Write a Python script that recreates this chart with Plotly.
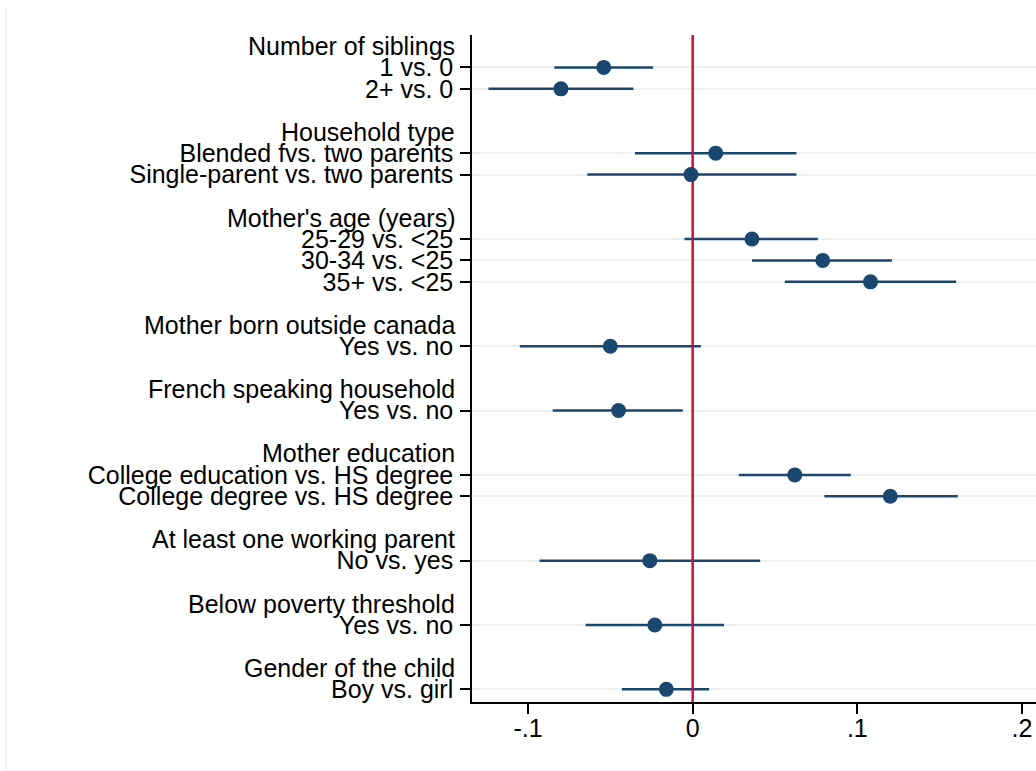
import plotly.graph_objects as go

# ---- data ----
group_headers = [
    "Number of siblings",
    "Household type",
    "Mother's age (years)",
    "Mother born outside canada",
    "French speaking household",
    "Mother education",
    "At least one working parent",
    "Below poverty threshold",
    "Gender of the child",
]
group_items = [
    ["1 vs. 0", "2+ vs. 0"],
    ["Blended fvs. two parents", "Single-parent vs. two parents"],
    ["25-29 vs. <25", "30-34 vs. <25", "35+ vs. <25"],
    ["Yes vs. no"],
    ["Yes vs. no"],
    ["College education vs. HS degree", "College degree vs. HS degree"],
    ["No vs. yes"],
    ["Yes vs. no"],
    ["Boy vs. girl"],
]
coef = [-0.054, -0.080, 0.014, -0.001, 0.036, 0.079, 0.108, -0.050, -0.045,
        0.062, 0.120, -0.026, -0.023, -0.016]
ci_low = [-0.084, -0.124, -0.035, -0.064, -0.005, 0.036, 0.056, -0.105, -0.085,
          0.028, 0.080, -0.093, -0.065, -0.043]
ci_high = [-0.024, -0.036, 0.063, 0.063, 0.076, 0.121, 0.160, 0.005, -0.006,
           0.096, 0.161, 0.041, 0.019, 0.010]
x_ticks = [-0.1, 0, 0.1, 0.2]
x_ticktext = ["-.1", "0", ".1", ".2"]
x_range = [-0.134, 0.2085]

# ---- row layout ----
header_rows = []
item_rows = []
item_labels = []
r = 0
for h, items in zip(group_headers, group_items):
    header_rows.append(r)
    for k, lab in enumerate(items):
        item_rows.append(r + 1 + k)
        item_labels.append(lab)
    r += len(items) + 2
y_range = [item_rows[-1] + 0.59, -0.51]

NAVY = "#1a476f"
RED = "#c8103c"
GRID = "#eaf2f3"
FONT = "Liberation Sans, Arial, sans-serif"
FS = 25

fig = go.Figure()

# CI lines
ci_x, ci_y = [], []
for lo, hi, y in zip(ci_low, ci_high, item_rows):
    ci_x += [lo, hi, None]
    ci_y += [y, y, None]
fig.add_trace(go.Scatter(x=ci_x, y=ci_y, mode="lines",
                         line=dict(color=NAVY, width=2.5), hoverinfo="skip",
                         showlegend=False))
# zero reference line
fig.add_trace(go.Scatter(x=[0, 0], y=y_range, mode="lines",
                         line=dict(color=RED, width=2.5), hoverinfo="skip",
                         showlegend=False))
# point estimates
fig.add_trace(go.Scatter(x=coef, y=item_rows, mode="markers",
                         marker=dict(color=NAVY, size=15, line=dict(width=0)),
                         showlegend=False))

annotations = []
for h, y in zip(group_headers, header_rows):
    annotations.append(dict(text=h, xref="paper", yref="y", x=0, y=y,
                            xanchor="right", yanchor="middle", xshift=-15,
                            showarrow=False,
                            font=dict(family=FONT, size=FS, color="black")))

fig.update_layout(
    width=1036, height=771,
    margin=dict(l=472, r=0, t=35, b=69, autoexpand=False),
    paper_bgcolor="white", plot_bgcolor="white",
    font=dict(family=FONT, size=FS, color="black"),
    showlegend=False,
    annotations=annotations,
    shapes=[dict(type="line", xref="paper", yref="paper",
                 x0=-0.826, x1=-0.826, y0=-0.11, y1=1.041,
                 line=dict(color="#eef3f5", width=1.5))],
    xaxis=dict(range=x_range, tickvals=x_ticks, ticktext=x_ticktext,
               showgrid=False, zeroline=False, showline=True,
               linecolor="black", linewidth=1.5, ticks="outside",
               ticklen=10, tickwidth=1.5, tickcolor="black",
               ticklabelstandoff=-7,
               tickfont=dict(family=FONT, size=FS, color="black")),
    yaxis=dict(range=y_range, tickmode="array", tickvals=item_rows,
               ticktext=item_labels, showgrid=True, gridcolor=GRID,
               gridwidth=2, zeroline=False, showline=True,
               linecolor="black", linewidth=1.5, ticks="outside",
               ticklen=10, tickwidth=1.5, tickcolor="black",
               ticklabelstandoff=2,
               tickfont=dict(family=FONT, size=FS, color="black")),
)

fig.write_html("out.html")
